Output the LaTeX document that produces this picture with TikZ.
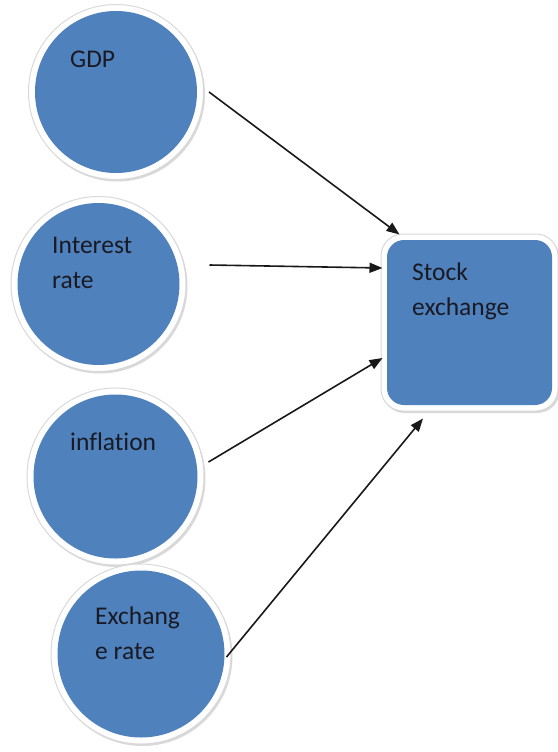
\documentclass[tikz,border=0pt]{standalone}
\usepackage{fontspec}
\setmainfont[Ligatures=NoCommon]{Carlito}
\usetikzlibrary{arrows.meta,shadows}
\definecolor{nodeblue}{HTML}{4F81BD}
\definecolor{inkdark}{HTML}{1A1A24}
\begin{document}
\begin{tikzpicture}[x=1pt,y=-1pt,
  ringshadow/.style={drop shadow={shadow xshift=1.5pt,shadow yshift=-2pt,fill=gray!50,opacity=0.6}},
  factor/.style={circle,minimum size=#1,inner sep=0pt,fill=white,draw=gray!30,line width=1pt,ringshadow,
    path picture={\fill[nodeblue] (path picture bounding box.center) circle ({#1/2-6.5pt});}},
  target/.style={rectangle,rounded corners=22pt,minimum width=177pt,minimum height=177pt,inner sep=0pt,
    fill=white,draw=gray!30,line width=1pt,ringshadow,
    path picture={\fill[nodeblue,rounded corners=17pt]
      ([shift={(6pt,6pt)}]path picture bounding box.south west) rectangle
      ([shift={(-6pt,-6pt)}]path picture bounding box.north east);}},
  label/.style={anchor=base west,inner sep=0pt,align=left,text=inkdark,
    font=\fontsize{25.5}{35}\selectfont},
  link/.style={draw=black!90,line width=1.6pt,-{Triangle[length=13pt,width=10pt]}}]

\useasboundingbox (0,0) rectangle (557,752);

% factor circles and the target box
\node[factor=175pt] (gdp) at (116,92) {};
\node[factor=175pt] (interest) at (98.5,284) {};
\node[factor=177pt] (inflation) at (115.5,476.5) {};
\node[factor=180pt] (exchange) at (141,654) {};
\node[target] (stock) at (469.5,322.5) {};

% labels (base anchor sits on the last line)
\node[label] (gdptext) at (70,67) {GDP};
\node[label] (interesttext) at (52,288) {Interest\\rate};
\node[label] (inflationtext) at (70,450) {inflation};
\node[label] (exchangetext) at (95,659) {Exchang\\e rate};
\node[label] (stocktext) at (412,315) {Stock\\exchange};

% connectors
\draw[link] ([shift={(5,0)}]gdp.east) -- ([shift={(19,1)}]stock.north west);
\draw[link] ([shift={(23,-19)}]interest.east) -- ([shift={(2,-54.5)}]stock.west);
\draw[link] ([shift={(4,-14.5)}]inflation.east) -- ([shift={(2,35.5)}]stock.west);
\draw[link] ([shift={(-5,3)}]exchange.east) -- ([shift={(-46.5,7)}]stock.south);
\end{tikzpicture}
\end{document}
